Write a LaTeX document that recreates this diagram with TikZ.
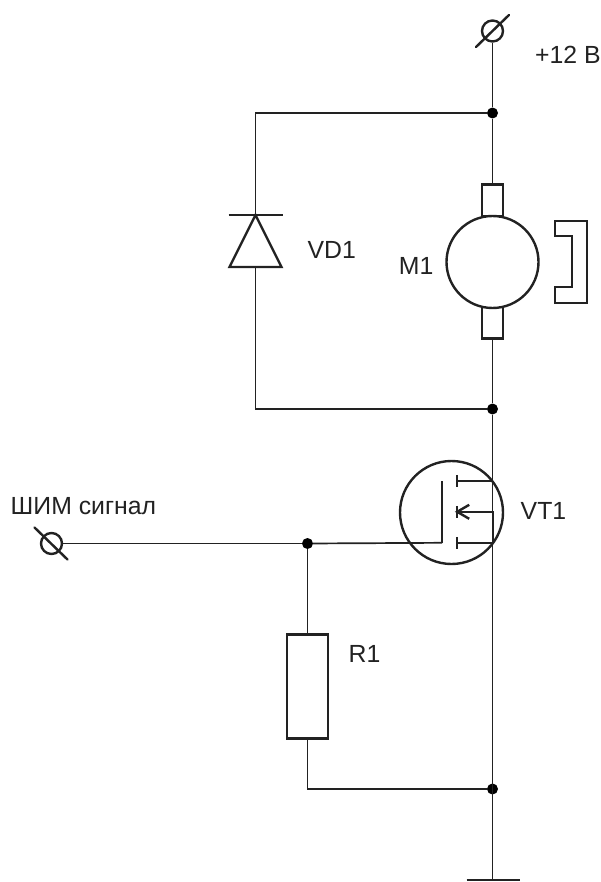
\documentclass[tikz,border=0pt]{standalone}
\usepackage{fontspec}
\setmainfont{Liberation Sans}
\usetikzlibrary{positioning}
\definecolor{ink}{HTML}{222222}
\tikzset{
  wire/.style={draw=ink, line width=1.7pt},
  part/.style={draw=ink, line width=2.4pt},
  dot/.style={circle, fill=black, inner sep=0pt, minimum size=11pt},
  terminal/.style={circle, draw=ink, line width=2.4pt, fill=white, inner sep=0pt, minimum size=21pt},
  brush/.style={part, fill=white, inner sep=0pt, minimum width=21pt, minimum height=32pt},
  lbl/.style={text=ink, inner sep=0pt, font=\fontsize{24.8pt}{28pt}\selectfont}
}
\begin{document}
\begin{tikzpicture}
        \useasboundingbox (0pt,0pt) rectangle (601pt,-882pt);
        \node [terminal] (Vcc) at (492.5pt,-31pt) {};
        \node [on grid, dot, below=82pt of Vcc] (DTop) {};
        \node [on grid, dot, below=296pt of DTop] (DBot) {};
        \node [on grid, dot, below=380pt of DBot] (DGnd) {};
        \node [on grid, below=91pt of DGnd, inner sep=0pt] (Gnd) {};
        \node [on grid, below=149pt of DTop, inner sep=0pt] (MCtr) {};
        \node [on grid, above=61.5pt of MCtr, brush] (BrushT) {};
        \node [on grid, below=60.5pt of MCtr, brush] (BrushB) {};
        \node [on grid, circle, part, fill=white, inner sep=0pt, minimum size=92pt] (M) at (MCtr) {};
        \node [on grid, below left=102pt and 237pt of DTop, inner sep=0pt] (VDk) {};
        \node [on grid, below=52pt of VDk, inner sep=0pt] (VDa) {};
        \node [on grid, left=185pt of DGnd, inner sep=0pt] (RJoin) {};
        \node [on grid, above=245.5pt of RJoin, dot] (DGate) {};
        \node [on grid, below=143pt of DGate, part, fill=white, inner sep=0pt, minimum width=41pt, minimum height=104pt] (R) {};
        \node [on grid, left=256pt of DGate, terminal] (Sig) {};
        \node [on grid, below left=103.5pt and 41pt of DBot, circle, part, inner sep=0pt, minimum size=103pt] (VT) {};
        \node [on grid, above right=31pt and 5pt of VT.center, inner sep=0pt] (VTd) {};
        \node [on grid, below=62pt of VTd, inner sep=0pt] (VTs) {};
        \node [on grid, below=31pt of VTd, inner sep=0pt] (VTb) {};
        \node [on grid, left=15pt of VTd, inner sep=0pt] (VTg) {};
        \node [on grid, below=62pt of VTg, inner sep=0pt] (VTc) {};
        \node [on grid, right=35.5pt of VTd, inner sep=0pt] (VTdm) {};
        \node [on grid, right=35.5pt of VTs, inner sep=0pt] (VTsm) {};
        \node [on grid, right=35.5pt of VTb, inner sep=0pt] (VTbm) {};
        \draw [wire] (Vcc) -- (DTop);
        \draw [wire] (DTop) -- (BrushT);
        \draw [wire] (BrushB) -- (DBot);
        \draw [wire] (DBot) -- (Gnd.center);
        \draw [wire] (DTop) -| (VDk.center);
        \draw [wire] (VDa.center) |- (DBot);
        \draw [wire] (Sig) -- (DGate);
        \draw [wire] (DGate) -- (R);
        \draw [wire] (R.south) |- (DGnd);
        \draw [wire] (DGate) -- (VTc.center);
        \draw [part] (VTc.center) -- (VTg.center);
        \draw [part] (Gnd.center) ++(-26pt,0pt) -- ++(53pt,0pt);
        \draw [part, line cap=round] (Vcc) ++(-16.5pt,-16pt) -- ++(33pt,32pt);
        \draw [part, line cap=round] (Sig) ++(-17pt,16pt) -- ++(33pt,-32pt);
        % diode
        \draw [part, line join=miter] (VDk.center) -- ++(-26pt,-52pt) -- ++(52pt,0pt) -- cycle;
        \draw [wire] (VDk.center) ++(-27pt,0pt) -- ++(54pt,0pt);
        % magnet
        \draw [part] (M.east) ++(15pt,41pt) -- ++(32pt,0pt) -- ++(0pt,-82pt) -- ++(-32pt,0pt) -- ++(0pt,16pt) -- ++(17pt,0pt) -- ++(0pt,51pt) -- ++(-17pt,0pt) -- cycle;
        % transistor
        \draw [part] (VTd.center) ++(0pt,6pt) -- ++(0pt,-12pt);
        \draw [part] (VTb.center) ++(0pt,6pt) -- ++(0pt,-12pt);
        \draw [part] (VTs.center) ++(0pt,6pt) -- ++(0pt,-12pt);
        \draw [wire] (VTd.center) -- (VTdm.center);
        \draw [wire] (VTs.center) -- (VTsm.center);
        \draw [part] (VTsm.center) -- (VTbm.center) -- (VTb.center);
        \draw [part] (VTb.center) ++(12pt,7pt) -- (VTb.center) -- ++(12pt,-7pt);
        \node [lbl, anchor=west] (VccLbl) at (535pt,-55pt) {+12 В};
        \node [lbl, on grid, right=52pt of VDk, anchor=west, yshift=-35pt] (VDLbl) {VD1};
        \node [lbl, on grid, left=60pt of M.center, anchor=east, yshift=-4pt, xshift=1pt] (MLbl) {M1};
        \node [lbl, on grid, right=69pt of VT.center, anchor=west, yshift=2pt] (VTLbl) {VT1};
        \node [lbl, on grid, right=41pt of R.center, anchor=west, yshift=33pt] (RLbl) {R1};
        \node [lbl, anchor=west] (SigLbl) at (10.5pt,-506pt) {ШИМ сигнал};
      \end{tikzpicture}
\end{document}
